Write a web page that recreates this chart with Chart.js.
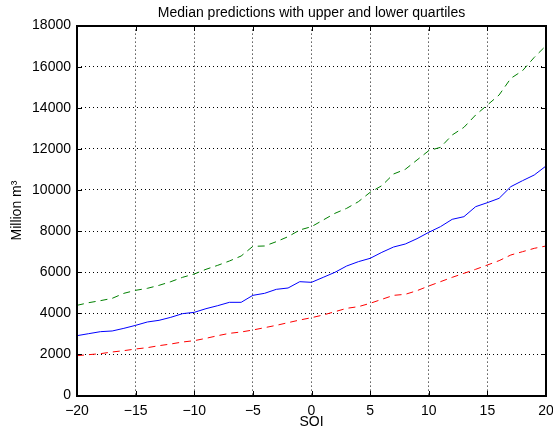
<!DOCTYPE html>
<html>
<head>
<meta charset="utf-8">
<script src="https://cdn.jsdelivr.net/npm/chart.js@4.4.1/dist/chart.umd.min.js"></script>
<style>
  html, body { margin: 0; padding: 0; background: #fff; }
  #wrap { width: 553px; height: 435px; }
</style>
</head>
<body>
<div id="wrap"><canvas id="c" width="553" height="435"></canvas></div>
<script>
// SOI values (x axis)
const soi = [];
for (let s = -20; s <= 20; s++) soi.push(s);

// Predicted volume, million m^3
const median = [2911, 3009, 3106, 3139, 3268, 3414, 3577, 3658, 3804, 3982,
  4047, 4225, 4371, 4534, 4534, 4874, 4972, 5166, 5231, 5539,
  5507, 5750, 5994, 6302, 6513, 6675, 6967, 7226, 7372, 7632,
  7940, 8216, 8573, 8702, 9189, 9384, 9594, 10162, 10454, 10730, 11168];

const upperQuartile = [4388, 4517, 4615, 4728, 4972, 5118, 5215, 5361, 5539, 5750,
  5912, 6140, 6334, 6545, 6788, 7259, 7275, 7486, 7729, 8054,
  8216, 8540, 8865, 9108, 9432, 9887, 10211, 10779, 11006, 11460,
  11914, 12076, 12676, 13049, 13650, 14136, 14623, 15434, 15807, 16456, 17023];

const lowerQuartile = [1938, 1987, 2036, 2117, 2182, 2263, 2328, 2425, 2506, 2603,
  2668, 2782, 2911, 3025, 3090, 3187, 3301, 3414, 3544, 3674,
  3787, 3917, 4079, 4242, 4323, 4485, 4680, 4874, 4923, 5101,
  5328, 5539, 5750, 5945, 6140, 6350, 6561, 6837, 6999, 7161, 7275];

const xTicks = [-20, -15, -10, -5, 0, 5, 10, 15, 20];
const yTicks = [0, 2000, 4000, 6000, 8000, 10000, 12000, 14000, 16000, 18000];

const chartTitle = 'Median predictions with upper and lower quartiles';

const pts = arr => arr.map((v, i) => ({ x: soi[i], y: v }));
const FONT = 'Liberation Sans, Arial, Helvetica, sans-serif';

// Title centred over the plot area (not the whole canvas)
const axesTitlePlugin = {
  id: 'axesTitle',
  afterDraw(chart) {
    const { ctx, chartArea: a } = chart;
    ctx.save();
    ctx.fillStyle = '#000';
    ctx.font = '14px ' + FONT;
    ctx.textAlign = 'center';
    ctx.textBaseline = 'alphabetic';
    ctx.fillText(chartTitle, (a.left + a.right) / 2, a.top - 9);
    ctx.restore();
  }
};

// Solid box round the axes with short inward tick marks on all four sides
const boxPlugin = {
  id: 'box',
  afterDraw(chart) {
    const { ctx, chartArea: a, scales } = chart;
    const len = 5;
    const L = Math.round(a.left), R = Math.round(a.right);
    const T = Math.round(a.top), B = Math.round(a.bottom);
    ctx.save();
    ctx.strokeStyle = '#000';
    ctx.lineWidth = 1;
    ctx.beginPath();
    scales.x.ticks.forEach(t => {
      const px = Math.round(scales.x.getPixelForValue(t.value)) + 0.5;
      ctx.moveTo(px, B); ctx.lineTo(px, B - len);
      ctx.moveTo(px, T); ctx.lineTo(px, T + len);
    });
    scales.y.ticks.forEach(t => {
      const py = Math.round(scales.y.getPixelForValue(t.value)) + 0.5;
      ctx.moveTo(L, py); ctx.lineTo(L + len, py);
      ctx.moveTo(R, py); ctx.lineTo(R - len, py);
    });
    ctx.stroke();
    ctx.lineWidth = 2;
    ctx.strokeRect(L, T, R - L, B - T);
    ctx.restore();
  }
};

new Chart(document.getElementById('c'), {
  type: 'line',
  data: {
    datasets: [
      { label: 'Median', data: pts(median), borderColor: '#0000ff', borderWidth: 1, pointRadius: 0, tension: 0 },
      { label: 'Upper quartile', data: pts(upperQuartile), borderColor: '#008000', borderWidth: 1, borderDash: [7, 5], pointRadius: 0, tension: 0 },
      { label: 'Lower quartile', data: pts(lowerQuartile), borderColor: '#ff0000', borderWidth: 1, borderDash: [7, 5], pointRadius: 0, tension: 0 }
    ]
  },
  options: {
    responsive: false,
    animation: false,
    events: [],
    layout: { padding: { left: 0, right: 7, top: 25.6, bottom: 0 } },
    plugins: {
      legend: { display: false },
      tooltip: { enabled: false },
      title: { display: false }
    },
    scales: {
      x: {
        type: 'linear',
        min: -20, max: 20,
        afterBuildTicks: s => { s.ticks = xTicks.map(v => ({ value: v })); },
        afterFit: s => { s.height = 39.5; s.paddingLeft = 0; s.paddingRight = 0; },
        ticks: {
          color: '#000', padding: 7,
          font: { family: FONT, size: 14 },
          maxRotation: 0,
          callback: v => (v < 0 ? '\u2212' + Math.abs(v) : String(v))
        },
        grid: { color: '#000', lineWidth: 1, drawTicks: false },
        border: { display: false, dash: [1, 3] },
        title: {
          display: true, text: 'SOI', color: '#000',
          font: { family: FONT, size: 14 },
          padding: { top: 0, bottom: 4.6 }
        }
      },
      y: {
        type: 'linear',
        min: 0, max: 18000,
        afterBuildTicks: s => { s.ticks = yTicks.map(v => ({ value: v })); },
        afterFit: s => { s.width = 77; s.paddingTop = 0; s.paddingBottom = 0; },
        ticks: {
          color: '#000', padding: 6,
          font: { family: FONT, size: 14 },
          callback: v => String(v)
        },
        grid: { color: '#000', lineWidth: 1, drawTicks: false },
        border: { display: false, dash: [1, 3] },
        title: {
          display: true, text: 'Million m\u00B3', color: '#000',
          font: { family: FONT, size: 14 },
          padding: { top: 9, bottom: 0 }
        }
      }
    }
  },
  plugins: [axesTitlePlugin, boxPlugin]
});
</script>
</body>
</html>
